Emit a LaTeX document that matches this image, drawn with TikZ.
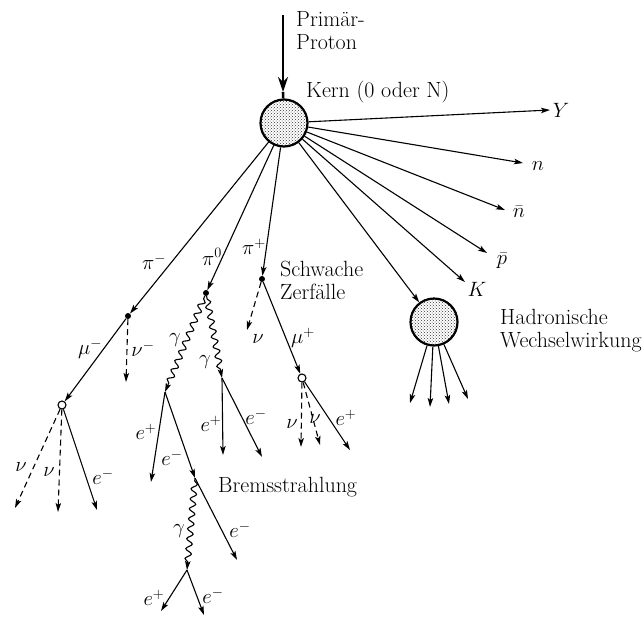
\documentclass[tikz,border=0pt]{standalone}
\usetikzlibrary{arrows.meta,decorations.pathmorphing,patterns}
\begin{document}
\begin{tikzpicture}[x=1pt,y=-1pt,
  every node/.style={font=\fontsize{22}{23}\selectfont, inner sep=0pt},
  ptl/.style={line width=1.1pt},
  arr/.style={-{Stealth[length=9pt,width=5.5pt,inset=2pt]}},
  nu/.style={line width=1.1pt, dash pattern=on 6pt off 4pt},
  photon/.style={line width=1.1pt, decorate, decoration={snake, amplitude=3pt, segment length=10pt, pre length=3pt, post length=6pt}},
  blob/.style={circle, draw, line width=2.2pt, pattern=crosshatch dots, pattern color=black!80, minimum size=47pt},
  vdot/.style={circle, fill, minimum size=6pt},
  vopen/.style={circle, draw, fill=white, line width=1.1pt, minimum size=8pt},
  txt/.style={anchor=west, align=left}]
\useasboundingbox (0,0) rectangle (644,619);

% vertices
\node[blob] (nuc) at (284,123) {};
\node[blob] (had) at (434,322) {};
\coordinate (src) at (283,15);
\coordinate (pa) at (283,92);
\node[vdot] (dm) at (128,316) {};
\node[vdot] (d0) at (206,293) {};
\node[vdot] (dp) at (262,279) {};
\node[vopen] (om) at (62,405) {};
\node[vopen] (op) at (302,378) {};
\coordinate (gL) at (165,392);
\coordinate (gR) at (222,378);
\coordinate (br) at (195,478);
\coordinate (pp) at (187,570);

% end points
\coordinate (eY) at (550,110);
\coordinate (en) at (523,163);
\coordinate (enb) at (505,210);
\coordinate (epb) at (487,253);
\coordinate (eK) at (465,282);
\coordinate (h1) at (410,403);
\coordinate (h2) at (430,407);
\coordinate (h3) at (449,404);
\coordinate (h4) at (468,399);
\coordinate (nuM) at (126,382);
\coordinate (nu1) at (15,508);
\coordinate (nu2) at (58,512);
\coordinate (eM) at (97,510);
\coordinate (ePL) at (151,482);
\coordinate (eFin) at (237,560);
\coordinate (ePR) at (223,455);
\coordinate (eMR) at (262,457);
\coordinate (ePb) at (161,611);
\coordinate (eMb) at (204,615);
\coordinate (nuP) at (247,330);
\coordinate (nu3) at (301,447);
\coordinate (nu4) at (320,445);
\coordinate (ePf) at (350,450);

% primary proton
\draw[line width=2.6pt, -{Stealth[length=15pt,width=10pt,inset=5pt]}] (src) -- (pa);
\draw[line width=2.6pt] (pa) -- (nuc);

% rays from nucleus
\foreach \e in {eY,en,enb,epb,eK,had,dm,d0,dp}
  \draw[ptl,arr] (nuc) -- (\e);

% hadronic shower
\foreach \e in {h1,h2,h3,h4}
  \draw[ptl,arr] (had) -- (\e);

% pi- branch
\draw[ptl,arr] (dm) -- (om);
\draw[nu,arr] (dm) -- (nuM);
\draw[nu,arr] (om) -- (nu1);
\draw[nu,arr] (om) -- (nu2);
\draw[ptl,arr] (om) -- (eM);

% pi0 branch
\draw[photon,arr] (d0) -- (gL);
\draw[photon,arr] (d0) -- (gR);
\draw[ptl,arr] (gL) -- (ePL);
\draw[ptl,arr] (gL) -- (br);
\draw[ptl,arr] (br) -- (eFin);
\draw[photon,arr] (br) -- (pp);
\draw[ptl,arr] (pp) -- (ePb);
\draw[ptl,arr] (pp) -- (eMb);
\draw[ptl,arr] (gR) -- (ePR);
\draw[ptl,arr] (gR) -- (eMR);

% pi+ branch
\draw[nu,arr] (dp) -- (nuP);
\draw[ptl,arr] (dp) -- (op);
\draw[nu,arr] (op) -- (nu3);
\draw[nu,arr] (op) -- (nu4);
\draw[ptl,arr] (op) -- (ePf);

% particle labels
\node (lpim) at (154,262) {$\pi^-$};
\node (lpi0) at (212,257) {$\pi^0$};
\node (lpip) at (254,247) {$\pi^+$};
\node (lmum) at (90,349) {$\mu^-$};
\node (lnum) at (143,349) {$\nu^-$};
\node (lnu1) at (21,467) {$\nu$};
\node (lnu2) at (49,472) {$\nu$};
\node (lem1) at (103,477) {$e^-$};
\node (lgL) at (175,340) {$\gamma$};
\node (lgR) at (205,362) {$\gamma$};
\node (lepL) at (146,432) {$e^+$};
\node (lemL) at (172,458) {$e^-$};
\node (lepR) at (211,424) {$e^+$};
\node (lemR) at (256,417) {$e^-$};
\node (lnuP) at (258,339) {$\nu$};
\node (lmup) at (303,338) {$\mu^+$};
\node (lnu3) at (292,424) {$\nu$};
\node (lnu4) at (315,419) {$\nu$};
\node (lepf) at (346,418) {$e^+$};
\node (lgb) at (179,531) {$\gamma$};
\node (lemf) at (240,530) {$e^-$};
\node (lepb) at (154,598) {$e^+$};
\node (lemb) at (213,596) {$e^-$};
\node (lY) at (561,110) {$Y$};
\node (ln) at (538,166) {$n$};
\node (lnb) at (519,212) {$\bar n$};
\node (lpb) at (502,261) {$\bar p$};
\node (lK) at (477,289) {$K$};

% texts
\node[txt] (tprim) at (296,31) {Primär-\\Proton};
\node[txt] (tkern) at (306,92) {Kern (0 oder N)};
\node[txt] (tschw) at (280,280) {Schwache\\Zerfälle};
\node[txt] (tbrems) at (218,487) {Bremsstrahlung};
\node[txt] (thad) at (500,331) {Hadronische\\Wechselwirkung};
\end{tikzpicture}
\end{document}
